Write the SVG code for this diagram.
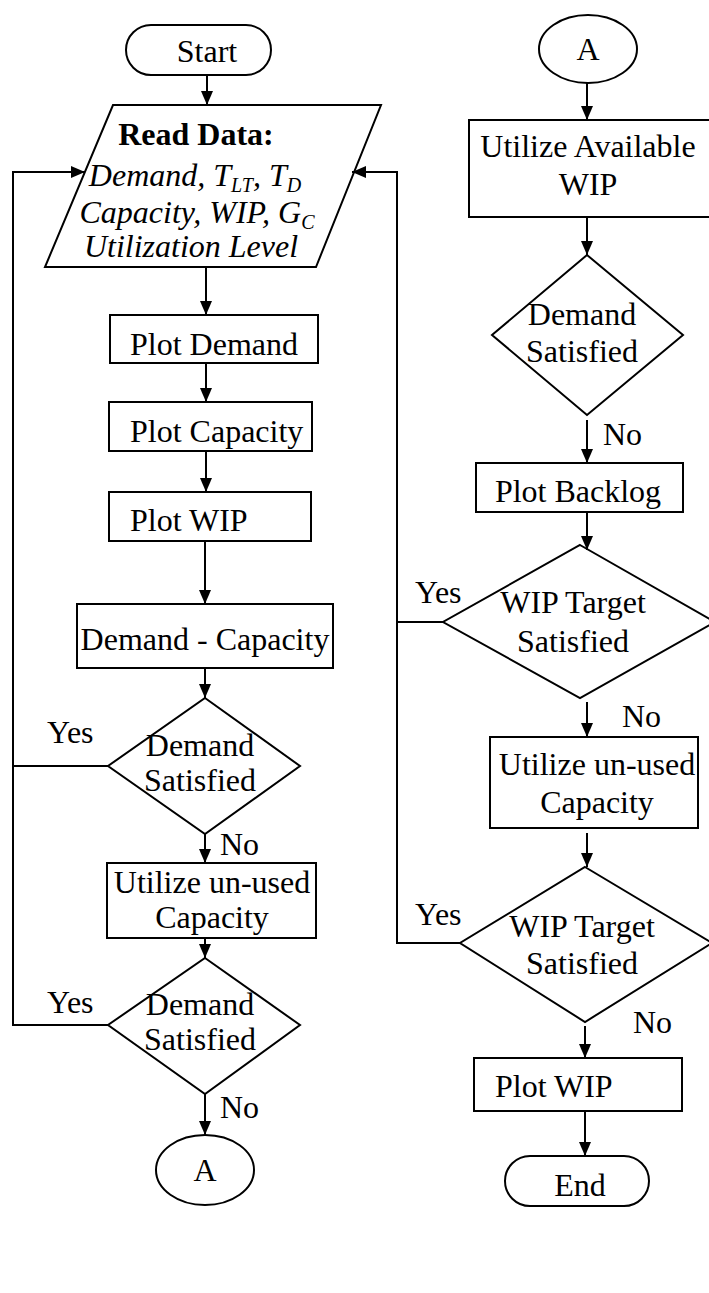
<svg xmlns="http://www.w3.org/2000/svg" width="709" height="1293" viewBox="0 0 709 1293">
  <defs>
    <marker id="arrow" markerUnits="userSpaceOnUse" markerWidth="14" markerHeight="12" refX="14" refY="6" orient="auto">
      <path d="M0,0 L14,6 L0,12 z" fill="#000"/>
    </marker>
    <style>
      .shape { fill: #fff; stroke: #000; stroke-width: 2; }
      .wire { fill: none; stroke: #000; stroke-width: 2; }
      .arrow { fill: none; stroke: #000; stroke-width: 2; marker-end: url(#arrow); }
      text { font-family: "Liberation Serif", "Times New Roman", serif; font-size: 32px; fill: #000; }
      .mid { text-anchor: middle; }
      .bold { font-weight: bold; }
      .it { font-style: italic; }
      .sub { font-size: 20px; }
    </style>
  </defs>
  <rect width="709" height="1293" fill="#fff"/>

  <!-- Left column -->
  <g id="start">
    <rect class="shape" x="126" y="25" width="145" height="50" rx="25"/>
    <text class="mid" x="207" y="62">Start</text>
  </g>
  <g id="read-data">
    <polygon class="shape" points="113,105 381,105 316,267 45,267"/>
    <text class="mid bold" x="196" y="145">Read Data:</text>
    <text class="mid it" x="195" y="186">Demand, T<tspan class="sub" dy="6">LT</tspan><tspan dy="-6">, T</tspan><tspan class="sub" dy="6">D</tspan></text>
    <text class="mid it" x="197" y="223">Capacity, WIP, G<tspan class="sub" dy="6">C</tspan></text>
    <text class="mid it" x="191" y="257">Utilization Level</text>
  </g>
  <g id="plot-demand">
    <rect class="shape" x="110" y="315" width="208" height="48"/>
    <text x="130" y="355">Plot Demand</text>
  </g>
  <g id="plot-capacity">
    <rect class="shape" x="109" y="402" width="203" height="49"/>
    <text x="130" y="442">Plot Capacity</text>
  </g>
  <g id="plot-wip-1">
    <rect class="shape" x="109" y="492" width="202" height="49"/>
    <text x="130" y="531">Plot WIP</text>
  </g>
  <g id="demand-minus-capacity">
    <rect class="shape" x="77" y="604" width="256" height="64"/>
    <text class="mid" x="205" y="650">Demand - Capacity</text>
  </g>
  <g id="demand-satisfied-1">
    <polygon class="shape" points="205,698 300,766 205,834 108,766"/>
    <text class="mid" x="200" y="756">Demand</text>
    <text class="mid" x="200" y="791">Satisfied</text>
  </g>
  <g id="use-capacity-1">
    <rect class="shape" x="107" y="863" width="209" height="75"/>
    <text class="mid" x="212" y="893">Utilize un-used</text>
    <text class="mid" x="212" y="928">Capacity</text>
  </g>
  <g id="demand-satisfied-2">
    <polygon class="shape" points="205,958 300,1025 205,1094 108,1025"/>
    <text class="mid" x="200" y="1015">Demand</text>
    <text class="mid" x="200" y="1050">Satisfied</text>
  </g>
  <g id="connector-a-out">
    <ellipse class="shape" cx="205" cy="1170" rx="49" ry="35"/>
    <text class="mid" x="205" y="1181">A</text>
  </g>

  <!-- Right column -->
  <g id="connector-a-in">
    <ellipse class="shape" cx="588" cy="49" rx="49" ry="34"/>
    <text class="mid" x="588" y="60">A</text>
  </g>
  <g id="use-available-wip">
    <rect class="shape" x="469" y="120" width="260" height="97"/>
    <text class="mid" x="588" y="157">Utilize Available</text>
    <text class="mid" x="588" y="195">WIP</text>
  </g>
  <g id="demand-satisfied-3">
    <polygon class="shape" points="587,255 683,335 587,415 492,335"/>
    <text class="mid" x="582" y="325">Demand</text>
    <text class="mid" x="582" y="362">Satisfied</text>
  </g>
  <g id="plot-backlog">
    <rect class="shape" x="476" y="463" width="207" height="49"/>
    <text class="mid" x="578" y="502">Plot Backlog</text>
  </g>
  <g id="wip-target-1">
    <polygon class="shape" points="580,545 715,622 580,698 443,622"/>
    <text class="mid" x="573" y="613">WIP Target</text>
    <text class="mid" x="573" y="652">Satisfied</text>
  </g>
  <g id="use-capacity-2">
    <rect class="shape" x="490" y="737" width="208" height="91"/>
    <text class="mid" x="597" y="775">Utilize un-used</text>
    <text class="mid" x="597" y="813">Capacity</text>
  </g>
  <g id="wip-target-2">
    <polygon class="shape" points="585,867 712,943 585,1022 460,943"/>
    <text class="mid" x="582" y="937">WIP Target</text>
    <text class="mid" x="582" y="974">Satisfied</text>
  </g>
  <g id="plot-wip-2">
    <rect class="shape" x="474" y="1058" width="208" height="53"/>
    <text x="495" y="1097">Plot WIP</text>
  </g>
  <g id="end">
    <rect class="shape" x="505" y="1156" width="144" height="50" rx="25"/>
    <text class="mid" x="580" y="1196">End</text>
  </g>

  <!-- Connectors and branch labels -->
  <g id="connectors">
    <line class="arrow" x1="207" y1="75" x2="207" y2="105"/>
    <line class="arrow" x1="206" y1="267" x2="206" y2="315"/>
    <line class="arrow" x1="206" y1="363" x2="206" y2="402"/>
    <line class="arrow" x1="206" y1="451" x2="206" y2="492"/>
    <line class="arrow" x1="205" y1="541" x2="205" y2="604"/>
    <line class="arrow" x1="205" y1="668" x2="205" y2="698"/>
    <line class="arrow" x1="205" y1="834" x2="205" y2="863"/>
    <line class="arrow" x1="205" y1="938" x2="205" y2="958"/>
    <line class="arrow" x1="205" y1="1094" x2="205" y2="1135"/>
    <polyline class="wire" points="108,766 13,766"/>
    <polyline class="arrow" points="108,1025 13,1025 13,172 85,172"/>

    <line class="arrow" x1="587" y1="83" x2="587" y2="120"/>
    <line class="arrow" x1="587" y1="217" x2="587" y2="255"/>
    <line class="arrow" x1="587" y1="420" x2="587" y2="463"/>
    <line class="arrow" x1="587" y1="512" x2="587" y2="550"/>
    <line class="arrow" x1="587" y1="702" x2="587" y2="737"/>
    <line class="arrow" x1="587" y1="833" x2="587" y2="867"/>
    <line class="arrow" x1="585" y1="1026" x2="585" y2="1058"/>
    <line class="arrow" x1="585" y1="1111" x2="585" y2="1156"/>
    <polyline class="wire" points="443,622 397,622"/>
    <polyline class="arrow" points="460,943 397,943 397,172 352,172"/>

    <text x="47" y="743">Yes</text>
    <text x="47" y="1013">Yes</text>
    <text x="220" y="855">No</text>
    <text x="220" y="1118">No</text>
    <text x="603" y="445">No</text>
    <text x="415" y="603">Yes</text>
    <text x="622" y="727">No</text>
    <text x="415" y="925">Yes</text>
    <text x="633" y="1033">No</text>
  </g>
</svg>
